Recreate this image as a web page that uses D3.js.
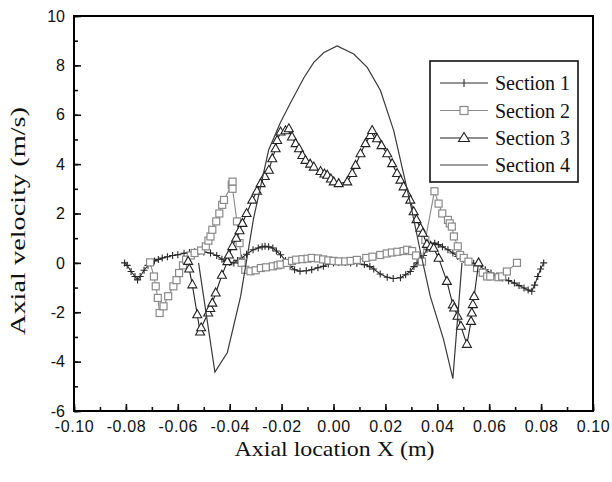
<!DOCTYPE html>
<html><head><meta charset="utf-8">
<script src="https://cdn.jsdelivr.net/npm/d3@7"></script>
<style>html,body{margin:0;padding:0;background:#fff;}svg{display:block;}</style>
</head><body>
<svg id="chart" width="612" height="482" viewBox="0 0 612 482"></svg>
<script>
const seriesNames = ["Section 1", "Section 2", "Section 3", "Section 4"];
const xTicks = [-0.10,-0.08,-0.06,-0.04,-0.02,0.00,0.02,0.04,0.06,0.08,0.10];
const xTickLabels = ["-0.10","-0.08","-0.06","-0.04","-0.02","0.00","0.02","0.04","0.06","0.08","0.10"];
const yTicks = [-6,-4,-2,0,2,4,6,8,10];
const yTickLabels = ["-6","-4","-2","0","2","4","6","8","10"];

const s1x = [-0.0805,-0.0795,-0.078,-0.0765,-0.0755,-0.0745,-0.073,-0.0715,-0.0704,-0.069,-0.0675,-0.066,-0.064,-0.062,-0.060,-0.0576,-0.0555,-0.0535,-0.0518,-0.050,-0.0474,-0.045,-0.043,-0.0414,-0.040,-0.0384,-0.037,-0.0354,-0.0335,-0.031,-0.029,-0.0275,-0.0264,-0.025,-0.0234,-0.022,-0.0204,-0.0185,-0.0167,-0.015,-0.0129,-0.0105,-0.0084,-0.006,-0.0039,-0.002,0.0,0.002,0.0045,0.0066,0.009,0.0119,0.014,0.0155,0.018,0.0207,0.023,0.0258,0.0278,0.0296,0.031,0.0322,0.0335,0.0347,0.036,0.0374,0.039,0.0404,0.042,0.0441,0.046,0.0479,0.050,0.0517,0.054,0.0562,0.0585,0.0607,0.063,0.0652,0.0675,0.0697,0.0715,0.0734,0.075,0.0764,0.0775,0.0787,0.0798,0.081];
const s1y = [0.0,-0.1,-0.35,-0.55,-0.69,-0.55,-0.3,-0.1,0.0,0.08,0.14,0.2,0.25,0.3,0.33,0.39,0.42,0.45,0.46,0.44,0.4,0.3,0.15,0.06,0.02,0.0,0.1,0.2,0.35,0.53,0.6,0.65,0.67,0.65,0.6,0.48,0.33,0.1,-0.14,-0.28,-0.34,-0.32,-0.28,-0.2,-0.14,-0.05,0.0,0.02,0.02,0.0,-0.02,-0.07,-0.15,-0.25,-0.45,-0.58,-0.63,-0.6,-0.48,-0.35,-0.15,0.0,0.15,0.3,0.55,0.75,0.8,0.74,0.65,0.53,0.4,0.26,0.15,0.06,-0.02,-0.14,-0.28,-0.41,-0.52,-0.61,-0.72,-0.82,-0.92,-1.02,-1.1,-1.15,-0.9,-0.55,-0.25,0.0];

const s2x = [-0.0707,-0.0692,-0.0685,-0.0677,-0.067,-0.0655,-0.0637,-0.0617,-0.0605,-0.0595,-0.058,-0.0568,-0.055,-0.0535,-0.051,-0.0492,-0.0482,-0.0474,-0.0467,-0.0452,-0.044,-0.0429,-0.0422,-0.0392,-0.0389,-0.0389,-0.0372,-0.0362,-0.0354,-0.034,-0.032,-0.030,-0.028,-0.026,-0.0234,-0.0215,-0.0204,-0.018,-0.016,-0.0144,-0.012,-0.010,-0.0084,-0.006,-0.004,-0.002,0.0,0.002,0.0045,0.0066,0.009,0.0126,0.015,0.018,0.0205,0.0225,0.0246,0.027,0.0284,0.0303,0.0318,0.0341,0.0354,0.0389,0.0405,0.0419,0.0441,0.0448,0.0456,0.0464,0.0479,0.0488,0.0502,0.052,0.0553,0.0575,0.0592,0.0604,0.0636,0.065,0.0668,0.0707];
const s2y = [0.02,-0.55,-0.95,-1.42,-2.03,-1.76,-1.35,-0.95,-0.7,-0.41,-0.1,0.13,0.3,0.4,0.5,0.67,0.9,1.07,1.34,1.68,2.0,2.35,2.55,3.16,3.29,3.0,1.68,0.8,0.0,-0.28,-0.34,-0.3,-0.21,-0.18,-0.14,-0.1,-0.07,0.0,0.08,0.13,0.15,0.17,0.2,0.18,0.14,0.1,0.08,0.06,0.06,0.08,0.12,0.2,0.25,0.32,0.38,0.42,0.45,0.48,0.53,0.48,0.3,0.05,0.93,2.9,2.4,2.0,1.74,1.6,1.47,1.07,0.67,0.32,0.2,0.05,-0.21,-0.4,-0.55,-0.55,-0.58,-0.55,-0.35,0.0];

const s3x = [-0.056,-0.0556,-0.0544,-0.0525,-0.0514,-0.051,-0.0483,-0.0475,-0.0467,-0.0454,-0.043,-0.0409,-0.0403,-0.039,-0.0375,-0.0362,-0.0351,-0.0335,-0.0313,-0.0295,-0.0281,-0.0265,-0.0249,-0.0236,-0.0223,-0.0217,-0.0204,-0.0185,-0.0172,-0.016,-0.0146,-0.0133,-0.012,-0.0108,-0.009,-0.0076,-0.005,-0.0035,-0.0024,-0.001,0.0001,0.002,0.0053,0.0072,0.0085,0.0104,0.0123,0.0142,0.0149,0.0168,0.0185,0.0207,0.0226,0.0245,0.0258,0.027,0.0283,0.0296,0.0309,0.032,0.0335,0.0344,0.036,0.0375,0.0386,0.0405,0.0437,0.046,0.0465,0.0478,0.0491,0.0514,0.053,0.0533,0.0537,0.0542,0.0559];
const s3y = [0.06,-0.25,-0.89,-2.1,-2.8,-2.63,-2.03,-1.85,-1.63,-1.22,-0.5,0.05,0.32,0.66,1.0,1.3,1.6,2.0,2.54,2.9,3.21,3.5,3.75,4.22,4.62,4.96,5.3,5.35,5.43,5.1,4.83,4.62,4.35,4.15,4.0,3.88,3.7,3.6,3.55,3.4,3.28,3.21,3.28,3.62,3.95,4.42,4.83,5.16,5.36,5.03,4.75,4.42,4.02,3.62,3.35,3.08,2.8,2.54,2.07,1.75,1.4,1.2,0.75,0.65,0.59,0.19,-0.75,-1.7,-1.83,-2.16,-2.57,-3.3,-2.37,-2.03,-1.69,-1.36,0.0];

const s4x = [-0.052,-0.0457,-0.0409,-0.0358,-0.0308,-0.025,-0.0204,-0.0165,-0.0114,-0.0076,-0.0037,0.0014,0.0078,0.013,0.0181,0.0232,0.0296,0.0336,0.0373,0.0424,0.046,0.0495];
const s4y = [0.0,-4.42,-3.63,-1.36,1.8,4.57,5.7,6.5,7.5,8.12,8.52,8.79,8.46,7.92,6.98,5.36,2.42,0.4,-1.36,-3.1,-4.69,0.0];

const L = 74, R = 593, T = 16, B = 411;
const svg = d3.select("#chart");
const x = d3.scaleLinear().domain([-0.1, 0.1]).range([L, R]);
const y = d3.scaleLinear().domain([-6, 10]).range([B, T]);
const ink = "#111111";

const line = d3.line().x(d => x(d[0])).y(d => y(d[1]));
const zip = (a, b) => a.map((v, i) => [v, b[i]]);
const d1 = zip(s1x, s1y), d2 = zip(s2x, s2y), d3_ = zip(s3x, s3y), d4 = zip(s4x, s4y);

const c1 = "#2a2a2a", c2 = "#8a8a8a", c3 = "#222222", c4 = "#3a3a3a";

// Section 1
svg.append("path").datum(d1).attr("d", line).attr("fill", "none").attr("stroke", c1).attr("stroke-width", 1.1);
svg.append("g").selectAll("path").data(d1).join("path")
  .attr("d", d => `M${x(d[0]) - 3.5},${y(d[1])}h7M${x(d[0])},${y(d[1]) - 3.5}v7`)
  .attr("stroke", c1).attr("stroke-width", 1.1);

// Section 2
svg.append("path").datum(d2).attr("d", line).attr("fill", "none").attr("stroke", c2).attr("stroke-width", 1.1);
svg.append("g").selectAll("rect").data(d2).join("rect")
  .attr("x", d => x(d[0]) - 3.5).attr("y", d => y(d[1]) - 3.5).attr("width", 7).attr("height", 7)
  .attr("fill", "#fff").attr("stroke", c2).attr("stroke-width", 1.2);

// Section 3
svg.append("path").datum(d3_).attr("d", line).attr("fill", "none").attr("stroke", c3).attr("stroke-width", 1.1);
svg.append("g").selectAll("path").data(d3_).join("path")
  .attr("d", d => `M${x(d[0])},${y(d[1]) - 5}L${x(d[0]) + 4.5},${y(d[1]) + 3}L${x(d[0]) - 4.5},${y(d[1]) + 3}Z`)
  .attr("fill", "#fff").attr("stroke", c3).attr("stroke-width", 1.1);

// Section 4
svg.append("path").datum(d4).attr("d", line).attr("fill", "none").attr("stroke", c4).attr("stroke-width", 1.2);

// axes
const xMinor = d3.range(-10, 10.5, 1).map(v => v / 100);
const yMinor = d3.range(-6, 10.5, 1);
function styleTicks(g) {
  g.select(".domain").remove();
  g.selectAll(".tick line").attr("stroke", ink).attr("stroke-width", 1.6);
}
svg.append("g").attr("transform", `translate(0,${B})`)
  .call(d3.axisBottom(x).tickValues(xMinor).tickSize(-4).tickFormat(() => ""))
  .call(styleTicks);
svg.append("g").attr("transform", `translate(${L},0)`)
  .call(d3.axisLeft(y).tickValues(yMinor).tickSize(-4).tickFormat(() => ""))
  .call(styleTicks);
const gx = svg.append("g").attr("transform", `translate(0,${B})`)
  .call(d3.axisBottom(x).tickValues(xTicks).tickSize(-7).tickPadding(10)
    .tickFormat((d, i) => xTickLabels[i]))
  .call(styleTicks);
gx.selectAll("text").attr("font-family", "Liberation Sans, Arial, sans-serif")
  .attr("font-size", 16).attr("fill", ink).attr("letter-spacing", 0.6);
const gy = svg.append("g").attr("transform", `translate(${L},0)`)
  .call(d3.axisLeft(y).tickValues(yTicks).tickSize(-7).tickPadding(9)
    .tickFormat((d, i) => yTickLabels[i]))
  .call(styleTicks);
gy.selectAll("text").attr("font-family", "Liberation Sans, Arial, sans-serif")
  .attr("font-size", 16).attr("fill", ink);

// frame drawn as four filled bars
const fw = 2;
const frame = svg.append("g").attr("fill", "#000");
frame.append("rect").attr("x", L - fw / 2).attr("y", T - fw / 2).attr("width", R - L + fw).attr("height", fw);
frame.append("rect").attr("x", L - fw / 2).attr("y", B - fw / 2).attr("width", R - L + fw).attr("height", fw);
frame.append("rect").attr("x", L - fw / 2).attr("y", T - fw / 2).attr("width", fw).attr("height", B - T + fw);
frame.append("rect").attr("x", R - fw / 2).attr("y", T - fw / 2).attr("width", fw).attr("height", B - T + fw);

// legend
const lg = svg.append("g");
lg.append("rect").attr("x", 430).attr("y", 61).attr("width", 148).attr("height", 121)
  .attr("fill", "#fff").attr("stroke", ink).attr("stroke-width", 1.6);
const rows = [83, 110.5, 138, 165];
seriesNames.forEach((name, i) => {
  const yy = rows[i];
  const col = [c1, c2, c3, c4][i];
  lg.append("line").attr("x1", 440).attr("x2", 488).attr("y1", yy).attr("y2", yy)
    .attr("stroke", col).attr("stroke-width", 1.1);
  const cx = 464;
  if (i === 0) lg.append("path").attr("d", `M${cx},${yy - 4}v8`).attr("stroke", col).attr("stroke-width", 1.1);
  if (i === 1) lg.append("rect").attr("x", cx - 4).attr("y", yy - 4).attr("width", 8).attr("height", 8)
    .attr("fill", "#fff").attr("stroke", col).attr("stroke-width", 1.2);
  if (i === 2) lg.append("path").attr("d", `M${cx},${yy - 5.5}L${cx + 5.5},${yy + 3.5}L${cx - 5.5},${yy + 3.5}Z`)
    .attr("fill", "#fff").attr("stroke", col).attr("stroke-width", 1.1);
  lg.append("text").attr("x", 495).attr("y", yy + 7).text(name)
    .attr("font-family", "Liberation Serif, Times New Roman, serif").attr("font-size", 20).attr("fill", ink);
});

// titles
svg.append("text").attr("x", (L + R) / 2 + 1).attr("y", 456).attr("text-anchor", "middle")
  .attr("font-family", "Liberation Serif, Times New Roman, serif").attr("font-size", 22)
  .attr("fill", ink).attr("textLength", 200).attr("lengthAdjust", "spacingAndGlyphs")
  .text("Axial location  X (m)");
svg.append("text").attr("transform", `translate(25,221) rotate(-90)`).attr("text-anchor", "middle")
  .attr("font-family", "Liberation Serif, Times New Roman, serif").attr("font-size", 22)
  .attr("fill", ink).attr("textLength", 228).attr("lengthAdjust", "spacingAndGlyphs")
  .text("Axial velocity (m/s)");
</script>
</body></html>
